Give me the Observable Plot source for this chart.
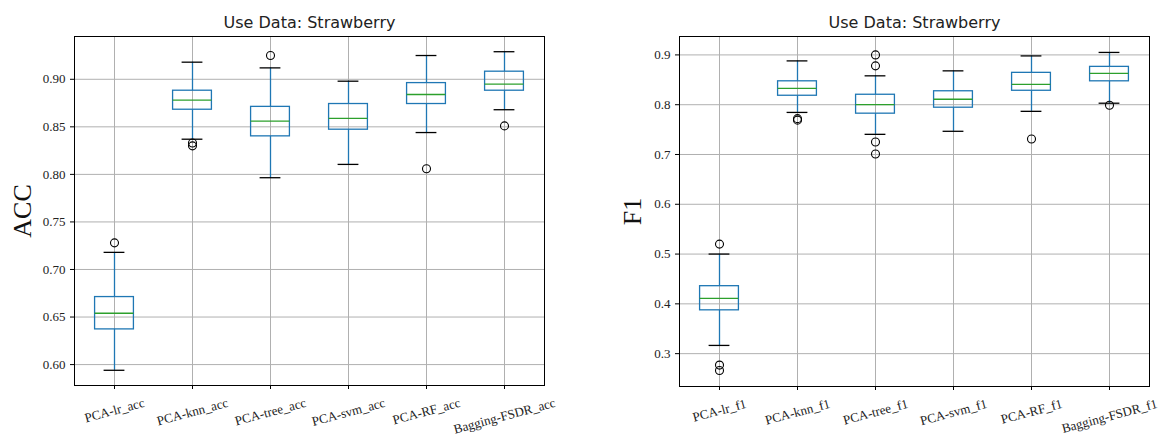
<!DOCTYPE html>
<html>
<head>
<meta charset="utf-8">
<script src="https://cdn.jsdelivr.net/npm/d3@7"></script>
<script src="https://cdn.jsdelivr.net/npm/@observablehq/plot@0.6"></script>
<style>
  html, body { margin: 0; padding: 0; background: #fff; }
  #wrap { display: flex; width: 1160px; height: 435px; }
  #wrap svg { display: block; }
</style>
</head>
<body>
<div id="wrap"></div>
<script>
// ---------- data ----------
const title = "Use Data: Strawberry";

const accCategories = ["PCA-lr_acc", "PCA-knn_acc", "PCA-tree_acc", "PCA-svm_acc", "PCA-RF_acc", "Bagging-FSDR_acc"];
const accWhiskerLow  = [0.594, 0.837, 0.7965, 0.8105, 0.844, 0.868];
const accQ1          = [0.637, 0.868, 0.840, 0.847, 0.874, 0.888];
const accMedian      = [0.654, 0.878, 0.856, 0.859, 0.884, 0.895];
const accQ3          = [0.671, 0.888, 0.871, 0.874, 0.896, 0.908];
const accWhiskerHigh = [0.718, 0.918, 0.912, 0.898, 0.925, 0.929];
const accOutliers    = [[0.728], [0.833, 0.830], [0.925], [], [0.806], [0.851]];
const accTicks = [0.60, 0.65, 0.70, 0.75, 0.80, 0.85, 0.90];

const f1Categories = ["PCA-lr_f1", "PCA-knn_f1", "PCA-tree_f1", "PCA-svm_f1", "PCA-RF_f1", "Bagging-FSDR_f1"];
const f1WhiskerLow  = [0.3165, 0.7845, 0.7405, 0.7466, 0.7867, 0.803];
const f1Q1          = [0.387, 0.818, 0.782, 0.794, 0.828, 0.847];
const f1Median      = [0.411, 0.833, 0.800, 0.811, 0.841, 0.863];
const f1Q3          = [0.4355, 0.847, 0.820, 0.827, 0.864, 0.876];
const f1WhiskerHigh = [0.500, 0.888, 0.858, 0.868, 0.898, 0.905];
const f1Outliers    = [[0.520, 0.277, 0.266], [0.772, 0.769], [0.900, 0.878, 0.725, 0.701], [], [0.731], [0.799]];
const f1Ticks = [0.3, 0.4, 0.5, 0.6, 0.7, 0.8, 0.9];

// ---------- helpers ----------
const serif = "'Liberation Serif', 'Times New Roman', serif";
const sans = "'DejaVu Sans', sans-serif";
const ctx = document.createElement("canvas").getContext("2d");
ctx.font = "13px 'Liberation Serif'";
const sin15 = Math.sin(15 * Math.PI / 180);

function panel({categories, low, q1, med, q3, high, outliers, ticks, fmt, domain, ylabel, ylabelDx, marginLeft, marginRight, marginBottom}) {
  const stats = categories.map((c, i) => ({cat: c, low: low[i], q1: q1[i], med: med[i], q3: q3[i], high: high[i]}));
  const outs = categories.flatMap((c, i) => outliers[i].map(v => ({cat: c, v})));
  const width = 580, height = 435, marginTop = 36;
  const band = (width - marginLeft - marginRight) / categories.length;
  const boxInset = band * 0.25;
  const capInset = (band - band * 0.27) / 2;
  const blue = "#1f77b4";
  const labelMarks = categories.map(c => {
    const w = ctx.measureText(c).width;
    return Plot.text([c], {
      x: d => d, frameAnchor: "bottom", dy: 17 + w * sin15 / 2,
      rotate: -15, textAnchor: "middle", lineAnchor: "middle",
      fontFamily: serif, fontSize: 13, fill: "#222"
    });
  });
  return Plot.plot({
    width, height, marginTop, marginLeft, marginRight, marginBottom,
    style: {background: "#fff", overflow: "visible"},
    x: {type: "band", domain: categories, padding: 0, axis: null},
    y: {domain, axis: null},
    marks: [
      Plot.gridY(ticks, {stroke: "#b0b0b0", strokeOpacity: 1, strokeWidth: 1}),
      Plot.ruleX(categories, {x: d => d, stroke: "#b0b0b0", strokeOpacity: 1, strokeWidth: 1}),
      Plot.frame({stroke: "#000", strokeWidth: 1}),
      Plot.axisY(ticks, {tickSize: 4, tickPadding: 5, tickFormat: d3.format(fmt), fontFamily: serif, fontSize: 13, fill: "#222", label: null}),
      Plot.axisX(categories, {tickSize: 4, tickFormat: () => "", label: null}),
      Plot.ruleX(stats, {x: "cat", y1: "q3", y2: "high", stroke: blue, strokeWidth: 1.3}),
      Plot.ruleX(stats, {x: "cat", y1: "low", y2: "q1", stroke: blue, strokeWidth: 1.3}),
      Plot.barY(stats, {x: "cat", y1: "q1", y2: "q3", fill: "none", stroke: blue, strokeWidth: 1.3, insetLeft: boxInset, insetRight: boxInset}),
      Plot.tickY(stats, {x: "cat", y: "med", stroke: "#2ca02c", strokeWidth: 1.3, insetLeft: boxInset, insetRight: boxInset}),
      Plot.tickY(stats, {x: "cat", y: "high", stroke: "#000", strokeWidth: 1.3, insetLeft: capInset, insetRight: capInset}),
      Plot.tickY(stats, {x: "cat", y: "low", stroke: "#000", strokeWidth: 1.3, insetLeft: capInset, insetRight: capInset}),
      Plot.dot(outs, {x: "cat", y: "v", r: 4, stroke: "#000", strokeWidth: 1.1, fill: "none"}),
      ...labelMarks,
      Plot.text([title], {frameAnchor: "top", dy: -9, lineAnchor: "bottom", fontFamily: sans, fontSize: 16, fill: "#222"}),
      Plot.text([ylabel], {frameAnchor: "left", dx: ylabelDx, rotate: -90, textAnchor: "middle", lineAnchor: "middle", fontFamily: serif, fontSize: 26, fill: "#111"})
    ]
  });
}

const wrap = document.getElementById("wrap");
wrap.append(panel({
  categories: accCategories, low: accWhiskerLow, q1: accQ1, med: accMedian, q3: accQ3, high: accWhiskerHigh,
  outliers: accOutliers, ticks: accTicks, fmt: ".2f", domain: [0.578, 0.945],
  ylabel: "ACC", ylabelDx: -52, marginLeft: 74, marginRight: 36, marginBottom: 50
}));
wrap.append(panel({
  categories: f1Categories, low: f1WhiskerLow, q1: f1Q1, med: f1Median, q3: f1Q3, high: f1WhiskerHigh,
  outliers: f1Outliers, ticks: f1Ticks, fmt: ".1f", domain: [0.234, 0.937],
  ylabel: "F1", ylabelDx: -47, marginLeft: 99, marginRight: 11, marginBottom: 49
}));
</script>
</body>
</html>
